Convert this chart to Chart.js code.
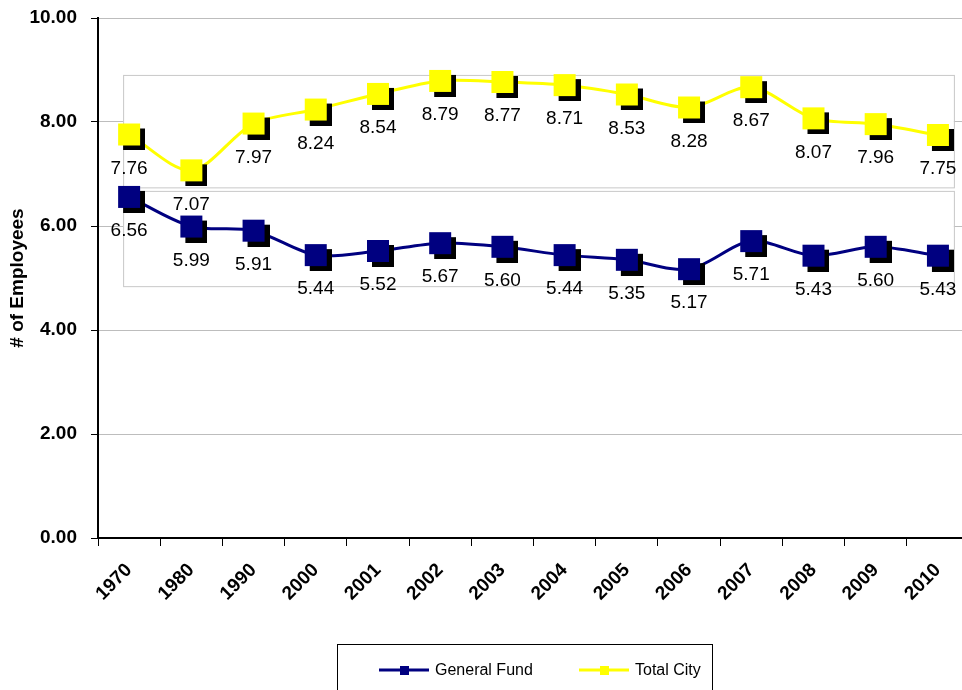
<!DOCTYPE html>
<html>
<head>
<meta charset="utf-8">
<script src="https://cdn.jsdelivr.net/npm/chart.js@4.4.1/dist/chart.umd.min.js"></script>
<style>
  html, body { margin: 0; padding: 0; background: #fff; overflow: hidden; }
  #wrap { width: 972px; height: 690px; }
</style>
</head>
<body>
<div id="wrap"><canvas id="chart" width="972" height="690"></canvas></div>
<script>
  // data
  const years = ['1970', '1980', '1990', '2000', '2001', '2002', '2003', '2004', '2005', '2006', '2007', '2008', '2009', '2010'];
  const generalFund = [6.56, 5.99, 5.91, 5.44, 5.52, 5.67, 5.60, 5.44, 5.35, 5.17, 5.71, 5.43, 5.60, 5.43];
  const totalCity = [7.76, 7.07, 7.97, 8.24, 8.54, 8.79, 8.77, 8.71, 8.53, 8.28, 8.67, 8.07, 7.96, 7.75];
  const yTicks = [0, 2, 4, 6, 8, 10];

  const FONT = '"Liberation Sans", Arial, sans-serif';
  const NAVY = '#000080';
  const YELLOW = '#ffff00';

  // square marker with a black drop shadow
  function marker(color) {
    const s = 22, off = 5;
    const c = document.createElement('canvas');
    c.width = c.height = s + off * 2;
    const g = c.getContext('2d');
    g.fillStyle = '#000';
    g.fillRect(off * 2, off * 2, s, s);
    g.fillStyle = color;
    g.fillRect(off, off, s, s);
    return c;
  }

  // white framed band behind each series
  const bands = {
    id: 'bands',
    beforeDatasetsDraw(chart) {
      const ctx = chart.ctx;
      chart.data.datasets.forEach((ds, i) => {
        const pts = chart.getDatasetMeta(i).data;
        const y = chart.scales.y;
        const top = y.getPixelForValue(Math.max(...ds.data)) - 6;
        const bottom = y.getPixelForValue(Math.min(...ds.data)) + 17;
        const left = pts[0].x - 6;
        const right = pts[pts.length - 1].x + 16;
        ctx.save();
        ctx.fillStyle = '#fff';
        ctx.fillRect(left, top, right - left, bottom - top);
        ctx.strokeStyle = '#c8c8c8';
        ctx.lineWidth = 1;
        ctx.strokeRect(left + 0.5, top + 0.5, right - left, bottom - top);
        ctx.restore();
      });
    }
  };

  const valueLabels = {
    id: 'valueLabels',
    afterDatasetsDraw(chart) {
      const ctx = chart.ctx;
      ctx.save();
      ctx.font = '19px ' + FONT;
      ctx.fillStyle = '#000';
      ctx.textAlign = 'center';
      ctx.textBaseline = 'middle';
      chart.data.datasets.forEach((ds, i) => {
        chart.getDatasetMeta(i).data.forEach((p, j) => {
          ctx.fillText(ds.data[j].toFixed(2), p.x, p.y + 34);
        });
      });
      ctx.restore();
    }
  };

  // boxed legend under the chart
  const boxLegend = {
    id: 'boxLegend',
    afterDraw(chart) {
      const ctx = chart.ctx;
      ctx.save();
      ctx.strokeStyle = '#000';
      ctx.lineWidth = 1;
      ctx.strokeRect(337.5, 644.5, 375, 60);
      const cy = 670;
      const items = [{ x: 379, ds: chart.data.datasets[0] }, { x: 579, ds: chart.data.datasets[1] }];
      ctx.font = '16px ' + FONT;
      ctx.textBaseline = 'middle';
      items.forEach(it => {
        ctx.strokeStyle = it.ds.borderColor;
        ctx.lineWidth = 3;
        ctx.beginPath();
        ctx.moveTo(it.x, cy);
        ctx.lineTo(it.x + 50, cy);
        ctx.stroke();
        ctx.fillStyle = it.ds.borderColor;
        ctx.fillRect(it.x + 21, cy - 4, 9, 9);
        ctx.fillStyle = '#000';
        ctx.fillText(it.ds.label, it.x + 56, cy + 1);
      });
      ctx.restore();
    }
  };

  new Chart(document.getElementById('chart'), {
    type: 'line',
    data: {
      labels: years,
      datasets: [
        {
          label: 'General Fund',
          data: generalFund,
          borderColor: NAVY,
          backgroundColor: NAVY,
          borderWidth: 3,
          tension: 0.3,
          pointStyle: marker(NAVY),
          pointRadius: 11
        },
        {
          label: 'Total City',
          data: totalCity,
          borderColor: YELLOW,
          backgroundColor: YELLOW,
          borderWidth: 3,
          tension: 0.3,
          pointStyle: marker(YELLOW),
          pointRadius: 11
        }
      ]
    },
    options: {
      responsive: false,
      animation: false,
      layout: { autoPadding: false, padding: { top: 18, right: 3, left: 0, bottom: 0 } },
      plugins: { legend: { display: false }, tooltip: { enabled: false } },
      scales: {
        x: {
          offset: true,
          afterFit: s => { s.height = 152; s.paddingRight = 0; s.paddingLeft = 0; },
          border: { color: '#000', width: 2 },
          grid: { offset: true, drawOnChartArea: false, tickLength: 8, tickColor: '#000', tickWidth: 1 },
          ticks: {
            font: { family: FONT, size: 19, weight: 'bold' },
            color: '#000',
            minRotation: 45,
            maxRotation: 45,
            padding: 13
          }
        },
        y: {
          min: 0,
          max: 10,
          afterFit: s => { s.width = 98; s.paddingTop = 0; s.paddingBottom = 0; },
          afterBuildTicks: s => { s.ticks = yTicks.map(v => ({ value: v })); },
          border: { color: '#000', width: 2 },
          grid: { color: '#bdbdbd', lineWidth: 1, tickLength: 7, tickColor: '#000' },
          ticks: {
            font: { family: FONT, size: 19, weight: 'bold' },
            color: '#000',
            padding: 14,
            callback: v => Number(v).toFixed(2)
          },
          title: {
            display: true,
            text: '# of Employees',
            font: { family: FONT, size: 19, weight: 'bold' },
            color: '#000',
            padding: { top: 6, bottom: 0 }
          }
        }
      }
    },
    plugins: [bands, valueLabels, boxLegend]
  });
</script>
</body>
</html>
